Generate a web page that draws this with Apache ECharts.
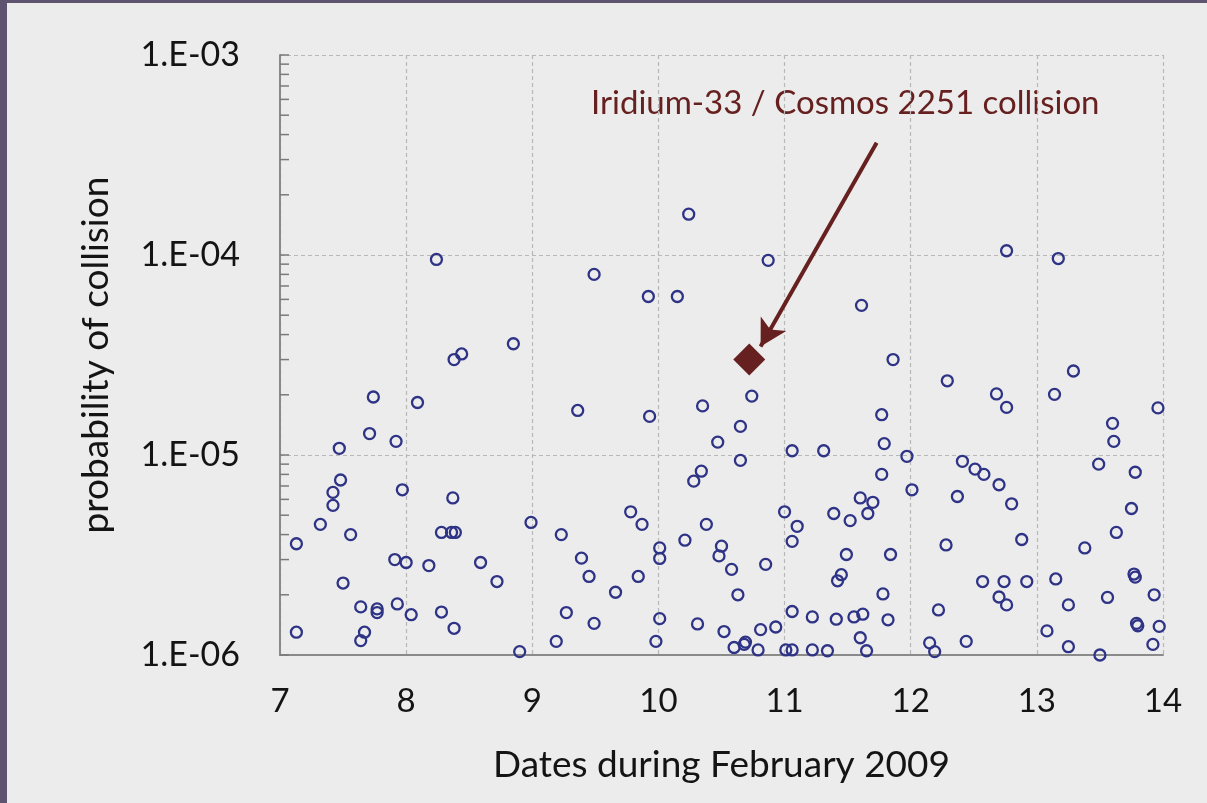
<!DOCTYPE html>
<html>
<head>
<meta charset="utf-8">
<script src="https://cdn.jsdelivr.net/npm/echarts@6/dist/echarts.min.js"></script>
<style>
  html, body { margin: 0; padding: 0; background: #ececec; }
  #chart { width: 1207px; height: 803px; }
</style>
</head>
<body>
<div id="chart"></div>
<script>
// conjunctions screened during 7-14 Feb 2009 (day of month, probability)
const days = [
  10.24, 8.24, 9.49, 9.92, 10.15, 8.85, 8.38, 8.44, 7.74, 8.09,
  9.36, 9.93, 10.35, 7.71, 7.92, 10.47, 10.87, 12.76, 13.17, 11.61,
  11.86, 12.29, 13.29, 12.68, 12.76, 13.14, 13.96, 13.60, 10.74, 11.77,
  10.65, 11.79, 13.61, 7.47, 7.48, 7.42, 7.42, 7.32, 7.56, 7.13,
  7.97, 8.37, 8.28, 8.36, 8.39, 7.91, 8.00, 8.18, 8.59, 8.72,
  7.50, 7.64, 7.77, 7.77, 7.93, 8.04, 8.28, 8.38, 7.13, 7.67,
  7.64, 10.34, 10.28, 8.99, 9.23, 9.78, 9.87, 10.38, 10.21, 10.01,
  10.01, 10.50, 10.48, 9.39, 9.45, 9.84, 9.66, 9.27, 9.49, 10.01,
  10.31, 10.52, 9.19, 8.90, 9.98, 10.65, 11.06, 11.31, 11.97, 11.77,
  12.01, 11.60, 11.70, 11.66, 11.39, 11.52, 11.00, 11.10, 11.06, 10.58,
  10.85, 11.49, 11.84, 11.45, 11.42, 10.63, 11.78, 11.06, 11.22, 11.41,
  11.55, 11.62, 11.82, 12.22, 10.81, 10.93, 11.60, 10.60, 10.68, 10.69,
  10.79, 11.01, 11.06, 11.22, 11.34, 11.65, 12.15, 12.19, 12.41, 12.51,
  12.58, 12.70, 12.37, 12.80, 13.49, 13.78, 13.75, 13.63, 13.38, 12.88,
  12.28, 12.57, 12.74, 12.92, 13.15, 13.77, 13.78, 12.70, 12.76, 13.25,
  13.56, 13.93, 13.08, 13.79, 13.80, 13.97, 12.44, 13.25, 13.50, 13.92
];
const probs = [
  1.6e-4, 9.5e-5, 8.0e-5, 6.2e-5, 6.2e-5, 3.6e-5, 3.0e-5, 3.2e-5, 1.95e-5, 1.83e-5,
  1.67e-5, 1.56e-5, 1.76e-5, 1.28e-5, 1.17e-5, 1.16e-5, 9.4e-5, 1.05e-4, 9.6e-5, 5.6e-5,
  3.0e-5, 2.35e-5, 2.63e-5, 2.02e-5, 1.73e-5, 2.01e-5, 1.72e-5, 1.44e-5, 1.97e-5, 1.59e-5,
  1.39e-5, 1.14e-5, 1.17e-5, 1.08e-5, 7.5e-6, 6.5e-6, 5.6e-6, 4.5e-6, 4.0e-6, 3.6e-6,
  6.7e-6, 6.1e-6, 4.1e-6, 4.1e-6, 4.1e-6, 3.0e-6, 2.9e-6, 2.8e-6, 2.9e-6, 2.33e-6,
  2.29e-6, 1.74e-6, 1.70e-6, 1.63e-6, 1.80e-6, 1.59e-6, 1.64e-6, 1.36e-6, 1.30e-6, 1.30e-6,
  1.18e-6, 8.3e-6, 7.4e-6, 4.6e-6, 4.0e-6, 5.2e-6, 4.5e-6, 4.5e-6, 3.75e-6, 3.43e-6,
  3.04e-6, 3.5e-6, 3.13e-6, 3.05e-6, 2.47e-6, 2.47e-6, 2.06e-6, 1.63e-6, 1.44e-6, 1.52e-6,
  1.43e-6, 1.31e-6, 1.17e-6, 1.04e-6, 1.17e-6, 9.4e-6, 1.05e-5, 1.05e-5, 9.85e-6, 8.0e-6,
  6.7e-6, 6.1e-6, 5.8e-6, 5.1e-6, 5.1e-6, 4.7e-6, 5.2e-6, 4.4e-6, 3.7e-6, 2.68e-6,
  2.84e-6, 3.18e-6, 3.18e-6, 2.52e-6, 2.35e-6, 2.0e-6, 2.02e-6, 1.65e-6, 1.55e-6, 1.51e-6,
  1.55e-6, 1.60e-6, 1.50e-6, 1.68e-6, 1.34e-6, 1.38e-6, 1.22e-6, 1.09e-6, 1.13e-6, 1.16e-6,
  1.06e-6, 1.06e-6, 1.06e-6, 1.06e-6, 1.05e-6, 1.05e-6, 1.15e-6, 1.04e-6, 9.3e-6, 8.5e-6,
  8.0e-6, 7.1e-6, 6.2e-6, 5.7e-6, 9.0e-6, 8.2e-6, 5.4e-6, 4.1e-6, 3.43e-6, 3.78e-6,
  3.55e-6, 2.33e-6, 2.33e-6, 2.33e-6, 2.4e-6, 2.54e-6, 2.45e-6, 1.95e-6, 1.78e-6, 1.78e-6,
  1.94e-6, 2.0e-6, 1.32e-6, 1.44e-6, 1.40e-6, 1.39e-6, 1.17e-6, 1.10e-6, 1.0e-6, 1.13e-6
];

// the actual collision
const collisionDay = 10.72;
const collisionProb = 3.0e-5;
const collisionLabel = 'Iridium-33 / Cosmos 2251 collision';

// arrow from the label down to the diamond
const arrowFrom = [11.73, 3.64e-4];
const arrowTo = [10.81, 3.49e-5];

const dayTicks = [7, 8, 9, 10, 11, 12, 13, 14];
const probTicks = [1e-6, 1e-5, 1e-4, 1e-3];

// log minor ticks 2..9 in every decade
const minorTicks = [];
for (let k = -6; k < -3; k++) {
  for (let m = 2; m <= 9; m++) minorTicks.push([dayTicks[0], m * Math.pow(10, k)]);
}

const font = 'Lato, "Liberation Sans", sans-serif';
const ink = '#141414';
const maroon = '#66201f';
const navy = '#2e3386';

const chart = echarts.init(document.getElementById('chart'));

chart.setOption({
  backgroundColor: '#ececec',
  animation: false,
  textStyle: {fontFamily: font},
  graphic: [
    {type: 'rect', left: 0, top: 0, shape: {width: 7, height: 803}, style: {fill: '#5e5470'}, silent: true},
    {type: 'rect', left: 0, top: 0, shape: {width: 1207, height: 3}, style: {fill: '#5e5470'}, silent: true},
    {
      type: 'text', left: 591, top: 87, silent: true,
      style: {text: collisionLabel, font: '33px ' + font, fill: maroon}
    }
  ],
  grid: {left: 280, top: 55, width: 883, height: 600},
  xAxis: {
    type: 'value',
    min: dayTicks[0],
    max: dayTicks[dayTicks.length - 1],
    interval: 1,
    name: 'Dates during February 2009',
    nameLocation: 'middle',
    nameGap: 92,
    nameTextStyle: {fontSize: 37, color: ink, fontFamily: font},
    axisLine: {show: true, lineStyle: {color: '#8a8a8a', width: 2}},
    axisTick: {show: false},
    axisLabel: {fontSize: 33, color: ink, margin: 30, fontFamily: font},
    splitLine: {show: true, lineStyle: {color: '#b8b8b8', type: [4, 3], width: 1.2}}
  },
  yAxis: {
    type: 'log',
    logBase: 10,
    min: probTicks[0],
    max: probTicks[probTicks.length - 1],
    name: 'probability of collision',
    nameLocation: 'middle',
    nameGap: 165,
    nameRotate: 90,
    nameTextStyle: {fontSize: 37, color: ink, fontFamily: font},
    axisLine: {show: true, lineStyle: {color: '#8a8a8a', width: 2}},
    axisTick: {show: true, inside: true, length: 9, lineStyle: {color: '#7a7a7a', width: 1.5}},
    axisLabel: {
      fontSize: 34, color: ink, margin: 40, fontFamily: font,
      formatter: v => '1.E-0' + Math.round(-Math.log10(v))
    },
    splitLine: {show: true, lineStyle: {color: '#b8b8b8', type: [4, 3], width: 1.2}}
  },
  series: [
    {
      type: 'custom',
      silent: true,
      data: minorTicks,
      renderItem: (params, api) => {
        const p = api.coord([api.value(0), api.value(1)]);
        return {
          type: 'line',
          shape: {x1: p[0], y1: p[1], x2: p[0] + 9, y2: p[1]},
          style: {stroke: '#7a7a7a', lineWidth: 1.5}
        };
      }
    },
    {
      type: 'scatter',
      silent: true,
      symbol: 'circle',
      symbolSize: 11,
      clip: false,
      itemStyle: {color: 'rgba(0,0,0,0)', borderColor: navy, borderWidth: 2.3, opacity: 1},
      data: days.map((d, i) => [d, probs[i]])
    },
    {
      type: 'scatter',
      silent: true,
      symbol: 'diamond',
      symbolSize: 32,
      itemStyle: {color: maroon, opacity: 1},
      data: [[collisionDay, collisionProb]],
      markLine: {
        silent: true,
        symbol: ['none', 'arrow'],
        symbolSize: [22, 26],
        label: {show: false},
        lineStyle: {color: maroon, width: 4, type: 'solid', opacity: 1},
        data: [[{coord: arrowFrom}, {coord: arrowTo}]]
      }
    }
  ]
});
</script>
</body>
</html>
